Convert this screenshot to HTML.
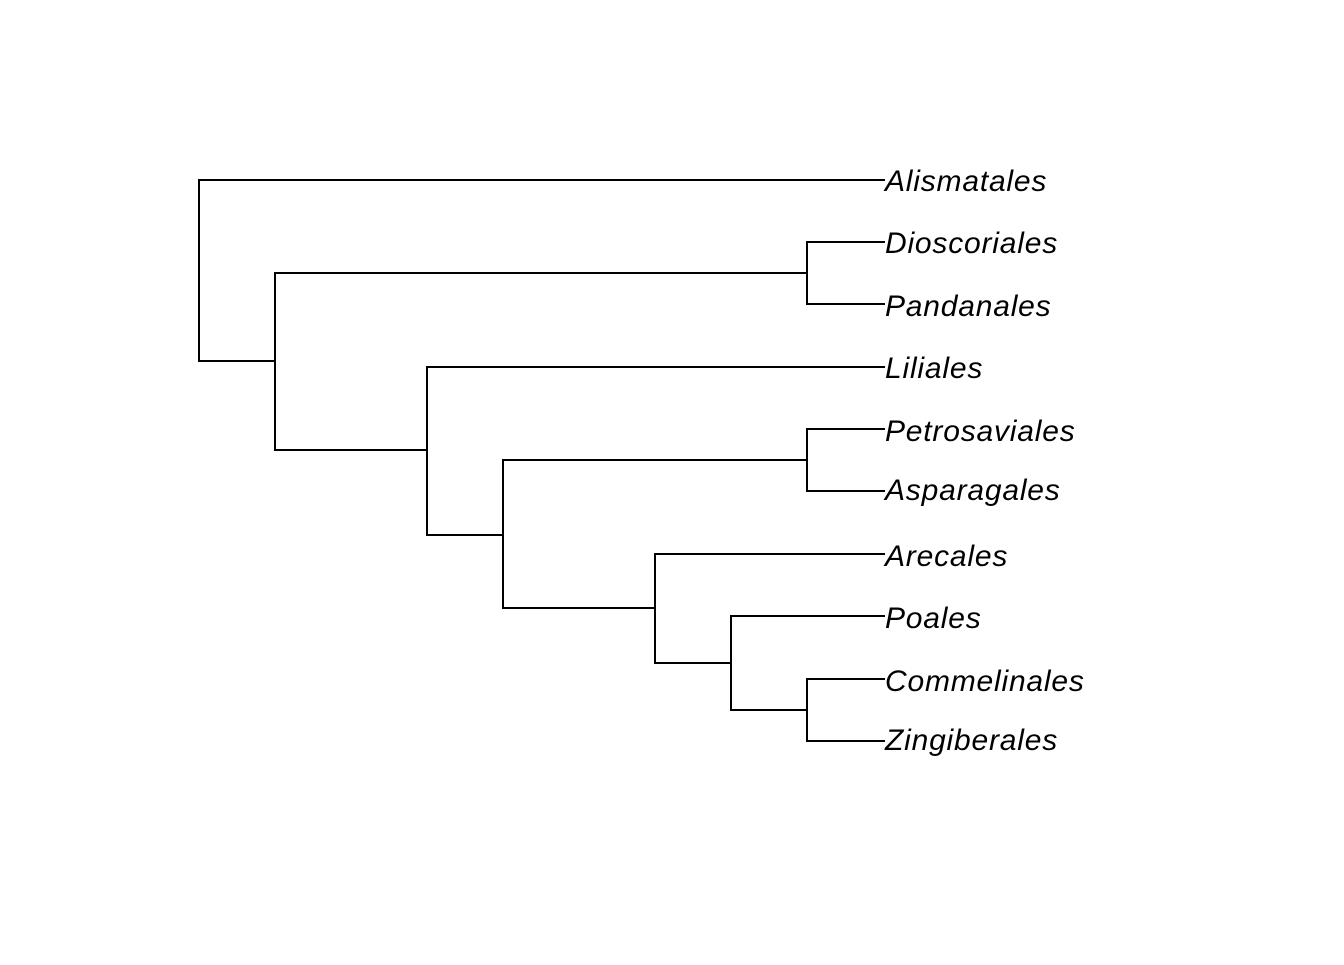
<!DOCTYPE html>
<html><head><meta charset="utf-8"><style>html,body{margin:0;padding:0;background:#fff}</style></head>
<body>
<svg width="1344" height="960" xmlns="http://www.w3.org/2000/svg">
<g stroke="#000" stroke-width="2" fill="none" stroke-linecap="square">
<path d="M199,180V361M199,180H884M199,361H275"/>
<path d="M275,273V450M275,273H807M807,242V304M807,242H884M807,304H884"/>
<path d="M275,450H427M427,367V535M427,367H884"/>
<path d="M427,535H503M503,460V608M503,460H807M807,429V491M807,429H884M807,491H884"/>
<path d="M503,608H655M655,554V663M655,554H884"/>
<path d="M655,663H731M731,616V710M731,616H884"/>
<path d="M731,710H807M807,679V741M807,679H884M807,741H884"/>
</g>
<g font-family="Liberation Sans, sans-serif" font-style="italic" font-size="30" letter-spacing="0.8" fill="#000">
<text x="885" y="191">Alismatales</text>
<text x="885" y="253">Dioscoriales</text>
<text x="885" y="316">Pandanales</text>
<text x="885" y="378">Liliales</text>
<text x="885" y="441">Petrosaviales</text>
<text x="885" y="500">Asparagales</text>
<text x="885" y="566">Arecales</text>
<text x="885" y="628">Poales</text>
<text x="885" y="691">Commelinales</text>
<text x="885" y="750">Zingiberales</text>
</g>
</svg>
</body></html>
